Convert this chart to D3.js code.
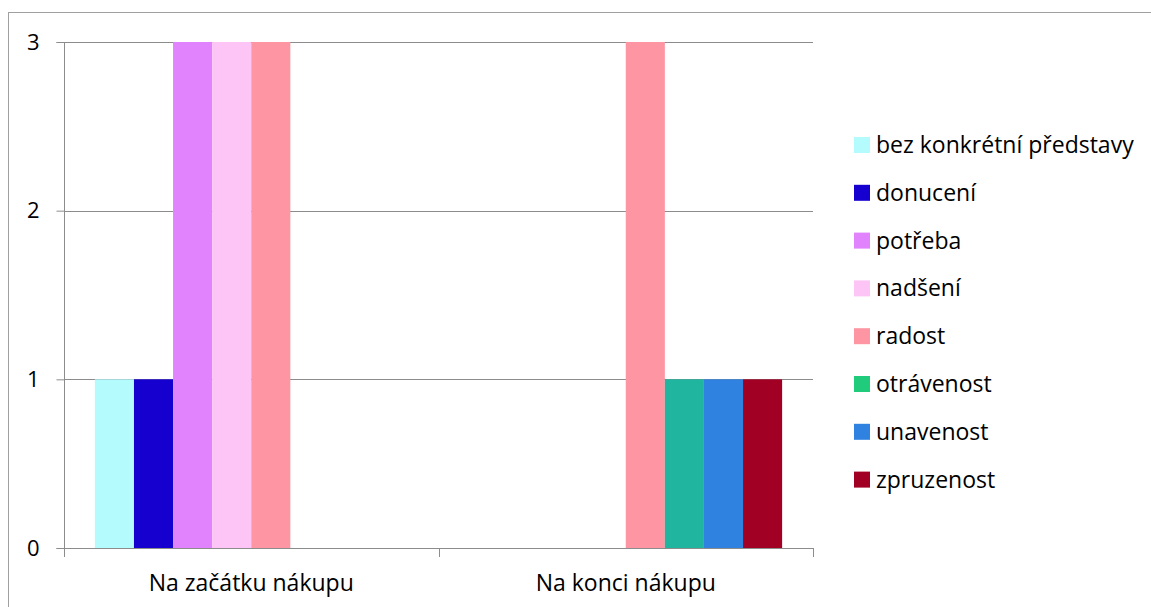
<!DOCTYPE html>
<html>
<head>
<meta charset="utf-8">
<script src="https://cdn.jsdelivr.net/npm/d3@7"></script>
<style>
  html, body { margin: 0; padding: 0; background: #fff; }
  svg { display: block; font-family: "Open Sans", "Noto Sans", sans-serif; }
</style>
</head>
<body>
<svg id="chart" width="1151" height="607"></svg>
<script>
// Categories on the x axis
const categories = ["Na začátku nákupu", "Na konci nákupu"];
// Series names (legend order)
const seriesNames = ["bez konkrétní představy", "donucení", "potřeba", "nadšení", "radost", "otrávenost", "unavenost", "zpruzenost"];
// Values per series, one per category
const bezKonkretniPredstavy = [1, 0];
const donuceni = [1, 0];
const potreba = [3, 0];
const nadseni = [3, 0];
const radost = [3, 3];
const otravenost = [0, 1];
const unavenost = [0, 1];
const zpruzenost = [0, 1];
const yTicks = [0, 1, 2, 3];

const seriesValues = [bezKonkretniPredstavy, donuceni, potreba, nadseni, radost, otravenost, unavenost, zpruzenost];
const barColors = ["#b3fbfd", "#1600d0", "#e083fd", "#fcc5f6", "#fd96a2", "#1fb59f", "#2f82e0", "#a10024"];
const legendColors = ["#b3fbfd", "#1600d0", "#e083fd", "#fcc5f6", "#fd96a2", "#20cc7c", "#2f82e0", "#a10024"];

const FONT = 23;
const svg = d3.select("#chart");

// outer chart frame
svg.append("rect")
  .attr("x", 8.5).attr("y", 12.5)
  .attr("width", 1160).attr("height", 620)
  .attr("fill", "none").attr("stroke", "#a0a0a0").attr("stroke-width", 1);

const plot = { left: 64, right: 813, top: 42, bottom: 548 };

const x0 = d3.scaleBand().domain(categories).range([plot.left, plot.right]).paddingInner(0).paddingOuter(0);
const x1 = d3.scaleBand().domain(d3.range(seriesNames.length))
  .range([0, x0.bandwidth()]).paddingInner(0).paddingOuter(0.79);
const y = d3.scaleLinear().domain([0, 3]).range([plot.bottom, plot.top]);

// horizontal gridlines
svg.append("g").selectAll("line").data(yTicks.filter(d => d > 0)).join("line")
  .attr("x1", plot.left).attr("x2", plot.right)
  .attr("y1", d => Math.round(y(d)) + 0.5).attr("y2", d => Math.round(y(d)) + 0.5)
  .attr("stroke", "#8c8c8c").attr("stroke-width", 1);

// bars
const groups = svg.append("g").selectAll("g").data(categories).join("g")
  .attr("transform", c => `translate(${x0(c)},0)`);
groups.selectAll("rect")
  .data((c, ci) => seriesValues.map((vals, si) => ({ si, v: vals[ci] })).filter(d => d.v > 0))
  .join("rect")
  .attr("x", d => x1(d.si))
  .attr("width", x1.bandwidth())
  .attr("y", d => y(d.v))
  .attr("height", d => y(0) - y(d.v))
  .attr("fill", d => barColors[d.si]);

// y axis
const yAxis = d3.axisLeft(y).tickValues(yTicks).tickFormat(d3.format("d")).tickSize(8).tickPadding(17);
const yg = svg.append("g").attr("transform", `translate(${plot.left + 0.5},0)`).call(yAxis);
yg.select(".domain").attr("stroke", "#8c8c8c").attr("d", `M-8,${plot.top + 0.5}H0V${plot.bottom + 0.5}H-8`);
yg.selectAll(".tick line").attr("stroke", "#8c8c8c");
yg.selectAll(".tick text").attr("font-size", FONT - 1).attr("fill", "#000")
  .attr("font-family", "'Open Sans', sans-serif");

// x axis baseline with tick marks at category boundaries
const xg = svg.append("g");
xg.append("line").attr("x1", plot.left).attr("x2", plot.right)
  .attr("y1", plot.bottom + 0.5).attr("y2", plot.bottom + 0.5).attr("stroke", "#8c8c8c");
const bounds = categories.map(c => x0(c)).concat([x0(categories[categories.length - 1]) + x0.bandwidth()]);
xg.selectAll("line.tk").data(bounds).join("line").attr("class", "tk")
  .attr("x1", d => Math.round(d) + 0.5).attr("x2", d => Math.round(d) + 0.5)
  .attr("y1", plot.bottom).attr("y2", plot.bottom + 9).attr("stroke", "#8c8c8c");
xg.selectAll("text").data(categories).join("text")
  .attr("x", c => x0(c) + x0.bandwidth() / 2)
  .attr("y", 591)
  .attr("text-anchor", "middle")
  .attr("font-size", FONT).attr("fill", "#000")
  .text(c => c);

// legend
const legend = svg.append("g").attr("transform", "translate(854,0)");
const li = legend.selectAll("g").data(seriesNames).join("g")
  .attr("transform", (d, i) => `translate(0,${145 + i * 47.8})`);
li.append("rect").attr("x", 0).attr("y", -8).attr("width", 16).attr("height", 16)
  .attr("fill", (d, i) => legendColors[i]);
li.append("text").attr("x", 22).attr("y", 8).attr("font-size", FONT).attr("fill", "#000").text(d => d);
</script>
</body>
</html>
